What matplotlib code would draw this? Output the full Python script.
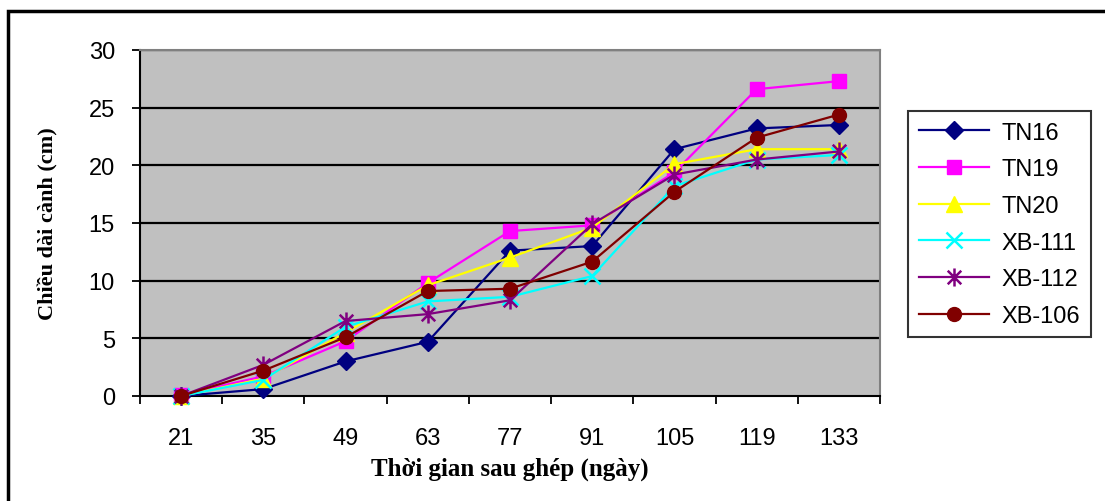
import numpy as np
import matplotlib.pyplot as plt
from matplotlib.patches import Rectangle
from matplotlib.path import Path

# Chiều dài cành theo thời gian sau ghép
days = ['21', '35', '49', '63', '77', '91', '105', '119', '133']
tn16 = [0.0, 0.6, 3.0, 4.7, 12.6, 13.0, 21.4, 23.2, 23.5]
tn19 = [0.1, 1.7, 4.75, 9.8, 14.3, 14.8, 19.4, 26.6, 27.3]
tn20 = [0.0, 1.5, 5.5, 9.6, 12.0, 14.6, 20.1, 21.4, 21.4]
xb111 = [0.0, 1.4, 6.0, 8.2, 8.6, 10.4, 18.2, 20.5, 20.9]
xb112 = [0.0, 2.7, 6.5, 7.1, 8.3, 14.9, 19.2, 20.5, 21.2]
xb106 = [0.0, 2.2, 5.1, 9.1, 9.3, 11.65, 17.7, 22.4, 24.4]

names = ['TN16', 'TN19', 'TN20', 'XB-111', 'XB-112', 'XB-106']
series = [tn16, tn19, tn20, xb111, xb112, xb106]
colors = ['#000080', '#FF00FF', '#FFFF00', '#00FFFF', '#800080', '#800000']

# asterisk marker: x plus a vertical stroke
star = Path([(0, -1), (0, 1), (-0.75, -0.75), (0.75, 0.75), (-0.75, 0.75), (0.75, -0.75)],
            [Path.MOVETO, Path.LINETO] * 3)
markers = ['D', 's', '^', 'x', star, 'o']
msizes = [9, 10, 11, 11, 13, 10]

fig = plt.figure(figsize=(11.05, 5.02), dpi=100)
ax = fig.add_axes([140/1105, 1-397/502, 740/1105, 346/502])

x = np.arange(len(days))
for vals, name, c, m, ms in zip(series, names, colors, markers, msizes):
    if m is star or m == 'x':
        ax.plot(x, vals, color=c, lw=1.6, marker=m, ms=ms, mew=1.8,
                label=name, clip_on=False, zorder=3)
    else:
        ax.plot(x, vals, color=c, lw=1.6, marker=m, ms=ms, mec=c,
                label=name, clip_on=False, zorder=3)

ax.set_facecolor('#C0C0C0')
ax.set_xlim(-0.5, len(days) - 0.5)
ax.set_ylim(0, 30)
ax.set_yticks(range(0, 31, 5))
for yv in range(5, 31, 5):
    ax.axhline(yv, color='black', lw=1.6, zorder=1)

# ticks at category boundaries, labels at centers
ax.set_xticks(np.arange(-0.5, len(days), 1))
ax.set_xticklabels([])
ax.set_xticks(x, minor=True)
ax.set_xticklabels(days, minor=True)
ax.tick_params(axis='x', which='major', direction='out', length=6, width=1.3)
ax.tick_params(axis='x', which='minor', length=0, pad=22, labelsize=17)
ax.tick_params(axis='y', direction='out', length=6, width=1.3, pad=12, labelsize=17)
for lab in ax.get_xticklabels(minor=True) + ax.get_yticklabels():
    lab.set_fontfamily('Liberation Sans')

for s in ['left', 'bottom']:
    ax.spines[s].set_color('black')
    ax.spines[s].set_linewidth(1.5)
for s in ['top', 'right']:
    ax.spines[s].set_color('#808080')
    ax.spines[s].set_linewidth(1.5)

ax.set_xlabel('Thời gian sau ghép (ngày)', fontfamily='Liberation Serif',
              fontweight='bold', fontsize=18, labelpad=6)
ax.set_ylabel('Chiều dài cành (cm)', fontfamily='Liberation Serif',
              fontweight='bold', fontsize=16, labelpad=22)

leg = fig.legend(loc='upper left', bbox_to_anchor=(908/1105, 1-112/502),
                 prop={'family': 'Liberation Sans', 'size': 17},
                 frameon=True, fancybox=False, edgecolor='black',
                 handlelength=3.0, labelspacing=0.62, borderpad=0.45,
                 handletextpad=0.5, borderaxespad=0)
leg.get_frame().set_linewidth(1.5)

# outer chart frame
fig.patches.append(Rectangle((8/1105, -0.05), 1.1, 1.05 - 12/502,
                             transform=fig.transFigure, fill=False,
                             edgecolor='black', lw=2.5))

fig.savefig('out.png', dpi=100)
